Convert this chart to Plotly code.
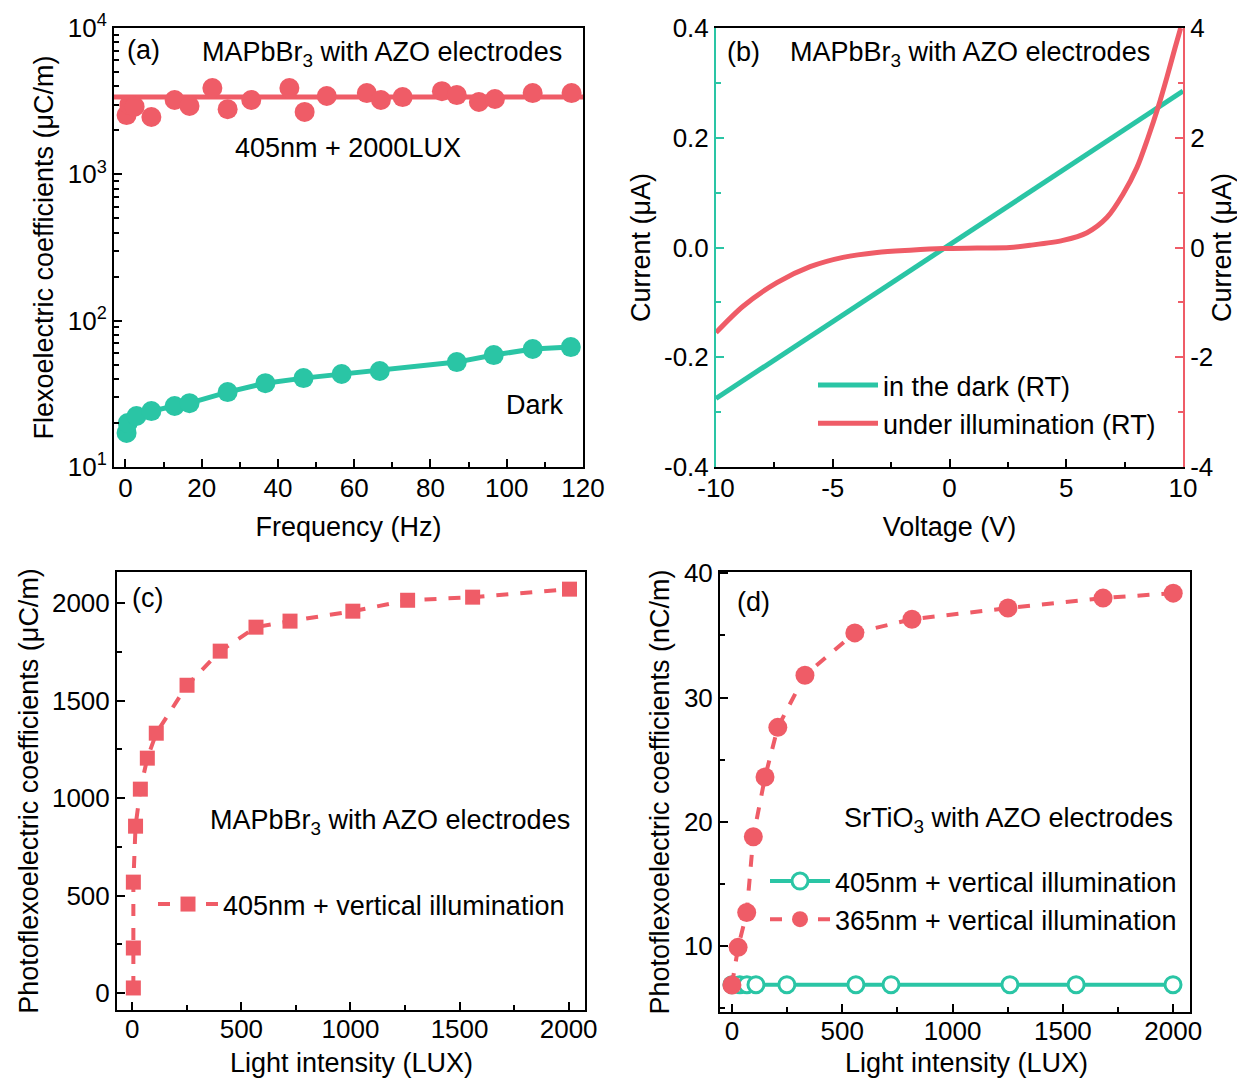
import plotly.graph_objects as go

TEAL = "#2ac5a5"
RED = "#ef5c67"
FONT = "Liberation Sans, Arial, sans-serif"
FS = 27
TFS = 26

# ---------- Panel (a) ----------
a_light_freq = [0.3, 1.0, 2.4, 6.8, 12.9, 16.8, 22.8, 26.8, 33, 43, 47, 52.8, 63.3, 67, 72.7, 83, 86.9, 92.7, 96.9, 106.8, 117]
a_light_val = [2540, 2980, 2900, 2465, 3220, 2930, 3890, 2790, 3220, 3890, 2670, 3430, 3590, 3220, 3370, 3700, 3480, 3120, 3270, 3590, 3590]
a_fit_freq = [-3, 120]
a_fit_val = [3380, 3380]
a_dark_freq = [0.3, 0.6, 2.9, 6.8, 12.9, 16.8, 26.8, 36.7, 46.7, 56.7, 66.7, 86.9, 96.6, 106.8, 116.8]
a_dark_val = [17.1, 20.0, 22.3, 24.1, 26.1, 27.3, 32.5, 37.4, 40.5, 43.2, 45.3, 52.1, 58.2, 64.0, 66.0]
a_ytick_vals = [10, 100, 1000, 10000]
a_ytick_text = ["10<sup>1</sup>", "10<sup>2</sup>", "10<sup>3</sup>", "10<sup>4</sup>"]

# ---------- Panel (b) ----------
b_dark_v = [-10, -7.5, -5, -2.5, 0, 2.5, 5, 7.5, 10]
b_dark_i = [-0.275, -0.205, -0.135, -0.066, 0.003, 0.073, 0.143, 0.213, 0.285]
b_light_v = [-10, -8.84, -7.39, -5.97, -4.56, -3.1, -1.69, -0.28, 1.18, 2.59, 3.45, 4.86, 5.89, 6.75, 7.43, 8.03, 8.5, 8.93, 9.31, 9.66, 9.9]
b_light_i = [-1.55, -1.07, -0.64, -0.35, -0.18, -0.09, -0.05, -0.02, -0.01, 0.0, 0.04, 0.13, 0.27, 0.55, 0.97, 1.46, 2.0, 2.55, 3.1, 3.64, 4.0]
b_xtick_vals = [-10, -5, 0, 5, 10]
b_xtick_text = ["-10", "-5", "0", "5", "10"]
b_yl_vals = [-0.4, -0.2, 0.0, 0.2, 0.4]
b_yl_text = ["-0.4", "-0.2", "0.0", "0.2", "0.4"]
b_yr_vals = [-4, -2, 0, 2, 4]
b_yr_text = ["-4", "-2", "0", "2", "4"]

# ---------- Panel (c) ----------
c_lux = [5, 5, 5, 15, 37, 69, 110, 251, 403, 567, 723, 1011, 1262, 1560, 2004]
c_val = [26, 231, 569, 856, 1046, 1205, 1333, 1579, 1754, 1877, 1908, 1959, 2015, 2031, 2072]

# ---------- Panel (d) ----------
d405_lux = [0, 36, 68, 109, 249, 562, 721, 1260, 1560, 1999]
d405_val = [6.9, 6.9, 6.9, 6.9, 6.9, 6.9, 6.9, 6.9, 6.9, 6.9]
d365_lux = [0, 28, 67, 97, 150, 208, 331, 557, 816, 1251, 1682, 2000]
d365_val = [6.87, 9.9, 12.7, 18.8, 23.6, 27.6, 31.8, 35.2, 36.3, 37.2, 38.0, 38.4]

# page offset (default body margin) and figure size
OFF = 8
W, H = 1245 - 2 * OFF, 1080 - OFF

def px(x):
    return (x - OFF) / W

def py(y):
    return 1 - (y - OFF) / H

fig = go.Figure()

# (a)
fig.add_trace(go.Scatter(x=a_fit_freq, y=a_fit_val, mode="lines", line=dict(color=RED, width=5),
                         showlegend=False, xaxis="x", yaxis="y"))
fig.add_trace(go.Scatter(x=a_light_freq, y=a_light_val, mode="markers", marker=dict(color=RED, size=20),
                         showlegend=False, xaxis="x", yaxis="y"))
fig.add_trace(go.Scatter(x=a_dark_freq, y=a_dark_val, mode="lines+markers", line=dict(color=TEAL, width=5),
                         marker=dict(color=TEAL, size=20), showlegend=False, xaxis="x", yaxis="y"))

# (b)
fig.add_trace(go.Scatter(x=b_dark_v, y=b_dark_i, mode="lines", line=dict(color=TEAL, width=5),
                         name="in the dark (RT)", legend="legend", xaxis="x2", yaxis="y2"))
fig.add_trace(go.Scatter(x=b_light_v, y=b_light_i, mode="lines", line=dict(color=RED, width=5, shape="spline", smoothing=0.8),
                         name="under illumination (RT)", legend="legend", xaxis="x2", yaxis="y3"))

# (c)
fig.add_trace(go.Scatter(x=c_lux, y=c_val, mode="lines+markers", line=dict(color=RED, width=4, dash="dash"),
                         marker=dict(color=RED, size=15, symbol="square"),
                         name="405nm + vertical illumination", legend="legend2", xaxis="x3", yaxis="y4"))

# (d)
fig.add_trace(go.Scatter(x=d405_lux, y=d405_val, mode="lines+markers", line=dict(color=TEAL, width=4),
                         marker=dict(color="white", size=16, symbol="circle", line=dict(color=TEAL, width=3)),
                         name="405nm + vertical illumination", legend="legend3", xaxis="x4", yaxis="y5"))
fig.add_trace(go.Scatter(x=d365_lux, y=d365_val, mode="lines+markers", line=dict(color=RED, width=4, dash="dash"),
                         marker=dict(color=RED, size=19, symbol="circle"),
                         name="365nm + vertical illumination", legend="legend3", xaxis="x4", yaxis="y5"))

tickfont = dict(family=FONT, size=TFS, color="black")
titlefont = dict(family=FONT, size=FS, color="black")

def axis(domain, anchor, rng, color="black", mirror=True, **kw):
    d = dict(domain=domain, anchor=anchor, range=rng, showline=True, linecolor=color, linewidth=2,
             mirror=mirror, ticks="inside", ticklen=8, tickwidth=1.5, tickcolor=color,
             showgrid=False, zeroline=False, tickfont=tickfont, automargin=False)
    d.update(kw)
    return d

def minor(dt=None, color="black", vals=None):
    m = dict(ticks="inside", ticklen=5, tickcolor=color)
    if vals is not None:
        m["tickvals"] = vals
    else:
        m["dtick"] = dt
    return m

Y_TOP = [py(467), py(28)]
Y_BOT = [py(1010), py(572)]

layout = dict(
    width=W, height=H, margin=dict(l=0, r=0, t=0, b=0),
    paper_bgcolor="white", plot_bgcolor="white", font=dict(family=FONT, size=FS, color="black"),
    xaxis=axis([px(114), px(583)], "y", [-3, 120], dtick=20, minor=minor(10), ticklabelstandoff=-3,
               title=dict(text="Frequency (Hz)", font=titlefont, standoff=15)),
    yaxis=axis(Y_TOP, "x", [1, 4], type="log", tickvals=a_ytick_vals, ticktext=a_ytick_text,
               minor=minor(vals=[20, 30, 40, 50, 60, 70, 80, 90, 200, 300, 400, 500, 600, 700, 800, 900,
                                 2000, 3000, 4000, 5000, 6000, 7000, 8000, 9000]),
               title=dict(text="Flexoelectric coefficients (μC/m)", font=titlefont, standoff=6)),
    xaxis2=axis([px(716), px(1183)], "y2", [-10, 10], tickvals=b_xtick_vals, ticktext=b_xtick_text, minor=minor(2.5),
                ticklabelstandoff=-3,
                title=dict(text="Voltage (V)", font=titlefont, standoff=15)),
    yaxis2=axis(Y_TOP, "x2", [-0.4, 0.4], color=TEAL, mirror=False, tickvals=b_yl_vals, ticktext=b_yl_text,
                minor=minor(0.1, TEAL),
                title=dict(text="Current (μA)", font=titlefont, standoff=6)),
    yaxis3=axis(Y_TOP, "x2", [-4, 4], color=RED, mirror=False, overlaying="y2", side="right",
                tickvals=b_yr_vals, ticktext=b_yr_text, minor=minor(1, RED),
                title=dict(text="Current (μA)", font=titlefont, standoff=6)),
    xaxis3=axis([px(117), px(585)], "y4", [-70, 2075], dtick=500, minor=minor(250), ticklabelstandoff=-5),
    yaxis4=axis(Y_BOT, "x3", [-87, 2160], dtick=500, minor=minor(250),
                title=dict(text="Photoflexoelectric coefficients (μC/m)", font=titlefont, standoff=6)),
    xaxis4=axis([px(720), px(1190)], "y5", [-54, 2076], dtick=500, minor=minor(250), ticklabelstandoff=-5),
    yaxis5=axis([py(1012), py(572)], "x4", [4.7, 40.1], tickvals=[10, 20, 30, 40], minor=minor(5),
                title=dict(text="Photoflexoelectric coefficients (nC/m)", font=titlefont, standoff=6)),
    legend=dict(x=px(813), y=py(361), xanchor="left", yanchor="top", bgcolor="rgba(0,0,0,0)",
                font=dict(family=FONT, size=FS), tracegroupgap=0, itemwidth=60),
    legend2=dict(x=px(153), y=py(880), xanchor="left", yanchor="top", bgcolor="rgba(0,0,0,0)",
                 font=dict(family=FONT, size=FS), itemwidth=60),
    legend3=dict(x=px(765), y=py(857), xanchor="left", yanchor="top", bgcolor="rgba(0,0,0,0)",
                 font=dict(family=FONT, size=FS), tracegroupgap=0, itemwidth=60),
)
fig.update_layout(**layout)

def ann(text, x, y, xanchor="left"):
    fig.add_annotation(text=text, x=px(x), y=py(y), xref="paper", yref="paper",
                       xanchor=xanchor, yanchor="middle", showarrow=False,
                       font=dict(family=FONT, size=FS, color="black"))

ann("(a)", 125, 50)
ann("MAPbBr<sub>3</sub> with AZO electrodes", 200, 54)
ann("405nm + 2000LUX", 233, 148)
ann("Dark", 504, 405)
ann("(b)", 725, 52)
ann("MAPbBr<sub>3</sub> with AZO electrodes", 788, 54)
ann("(c)", 130, 598)
ann("MAPbBr<sub>3</sub> with AZO electrodes", 572, 822, xanchor="right")
ann("(d)", 735, 602)
ann("SrTiO<sub>3</sub> with AZO electrodes", 1175, 820, xanchor="right")
# bottom-row x-axis titles
ann("Light intensity (LUX)", 351, 1063, xanchor="center")
ann("Light intensity (LUX)", 966, 1063, xanchor="center")

fig.write_html("out.html")
